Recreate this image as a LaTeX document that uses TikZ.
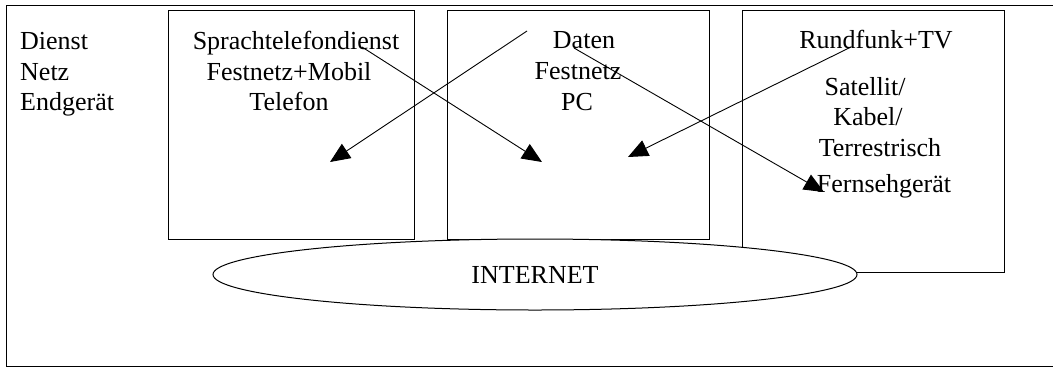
\documentclass[tikz,border=0pt]{standalone}
\usepackage{fontspec}
\setmainfont{Liberation Serif}
\usetikzlibrary{arrows.meta,shapes.geometric}
\begin{document}
\begin{tikzpicture}[x=1pt,y=-1pt,
  frameline/.style={line width=1pt},
  boxnode/.style={draw,line width=1pt,inner sep=0pt,outer sep=0pt,anchor=north west},
  lbl/.style={font=\fontsize{26}{30}\selectfont,inner sep=0pt,anchor=base},
  lblw/.style={lbl,anchor=base west},
  arr/.style={line width=0.9pt,-{Triangle[length=20pt,width=17pt]}}]
\useasboundingbox (0,0) rectangle (1053,368);
% outer frame (right edge lies outside the picture)
\coordinate (ftr) at (1060,5);
\coordinate (ftl) at (6,5);
\coordinate (fbl) at (6,366);
\coordinate (fbr) at (1060,366);
\draw[frameline] (ftr) -- (ftl) -- (fbl) -- (fbr);
% boxes
\node[boxnode,minimum width=246pt,minimum height=229pt] (b1) at (168,10) {};
\node[boxnode,minimum width=262pt,minimum height=229pt] (b2) at (447,10) {};
\node[boxnode,minimum width=262pt,minimum height=262pt] (b3) at (742,10) {};
% left legend
\node[lblw] (dienst) at (20,49) {Dienst};
\node[lblw] (netz) at (20,80) {Netz};
\node[lblw] (endg) at (20,110) {Endgerät};
% box 1 text
\node[lbl] (t11) at (296,49) {Sprachtelefondienst};
\node[lbl] (t12) at (289,80) {Festnetz+Mobil};
\node[lbl] (t13) at (289,110) {Telefon};
% box 2 text
\node[lbl] (t21) at (584,48) {Daten};
\node[lbl] (t22) at (578,79) {Festnetz};
\node[lbl] (t23) at (577,110) {PC};
% box 3 text
\node[lbl] (t31) at (876,48) {Rundfunk+TV};
\node[lbl] (t32) at (865,95) {Satellit/};
\node[lbl] (t33) at (868,125) {Kabel/};
\node[lbl] (t34) at (880,156) {Terrestrisch};
\node[lbl] (t35) at (884,192) {Fernsehgerät};
% internet ellipse
\node[ellipse,draw,fill=white,line width=1pt,minimum width=644pt,minimum height=71pt,inner sep=0pt,font=\fontsize{26}{30}\selectfont] (net) at (535,274.5) {INTERNET};
% arrows
\coordinate (a1s) at (527,31);
\coordinate (a1e) at (330,162);
\coordinate (a2s) at (362,47);
\coordinate (a2e) at (542,162);
\coordinate (a3s) at (851,47);
\coordinate (a3e) at (628,157);
\coordinate (a4s) at (574,48);
\coordinate (a4e) at (824,192);
\draw[arr] (a1s) -- (a1e);
\draw[arr] (a2s) -- (a2e);
\draw[arr] (a3s) -- (a3e);
\draw[arr] (a4s) -- (a4e);
\end{tikzpicture}
\end{document}
